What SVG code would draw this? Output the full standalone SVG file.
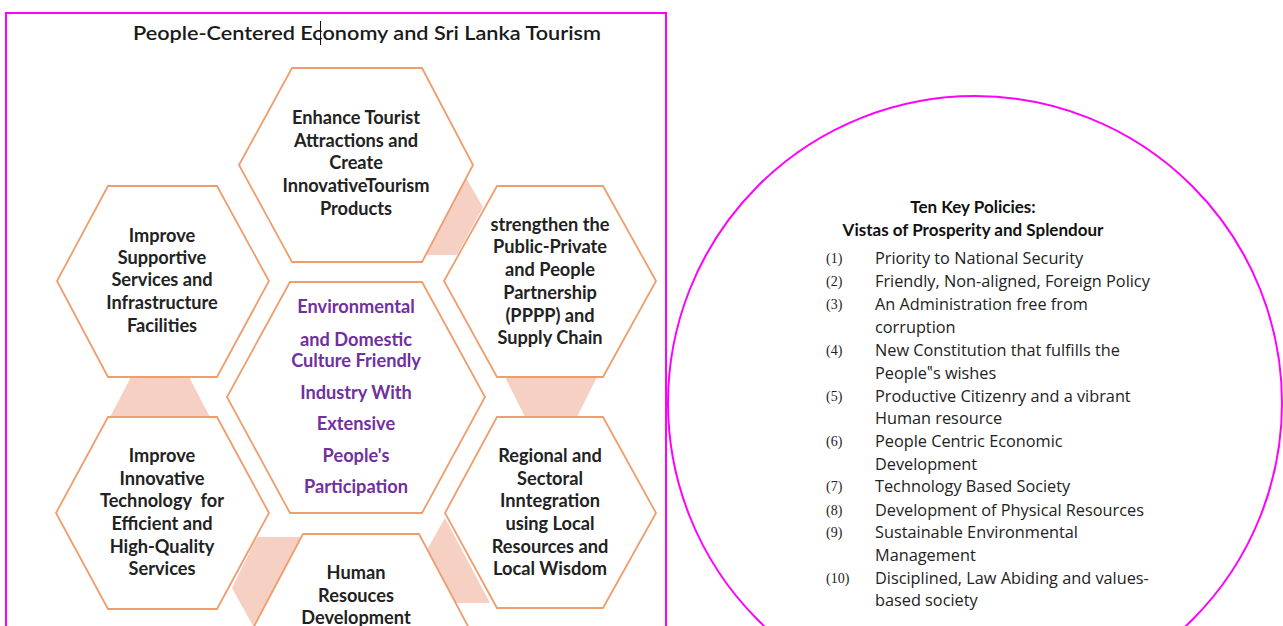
<svg xmlns="http://www.w3.org/2000/svg" width="1283" height="626" viewBox="0 0 1283 626">
<style>
.hex{fill:#fff;stroke:#EE9E6E;stroke-width:1.8}
.con{fill:#F6D0C2;stroke:none}
.ht{font-family:Lato,"Open Sans",sans-serif;font-weight:700;font-size:18.2px;fill:#222;text-anchor:middle}
.pt{font-family:Lato,"Open Sans",sans-serif;font-weight:700;font-size:18.2px;fill:#7030A0;text-anchor:middle}
.num{font-family:"Liberation Serif",serif;font-size:14px;fill:#222}
.li{font-family:"Open Sans",Lato,sans-serif;font-size:16.3px;fill:#222}
.rt{font-family:Lato,"Open Sans",sans-serif;font-weight:700;font-size:17px;fill:#111;text-anchor:middle}
</style>
<rect width="1283" height="626" fill="#fff"/>
<path d="M6,640 V13 H666 V640" fill="none" stroke="#FF00FF" stroke-width="2"/>
<circle cx="975" cy="403" r="307" fill="none" stroke="#FF00FF" stroke-width="2"/>
<g id="title">
<text x="367" y="40" font-family="Lato,'Open Sans',sans-serif" font-size="20px" font-weight="600" fill="#1a1a1a" text-anchor="middle" textLength="468" lengthAdjust="spacingAndGlyphs">People-Centered Economy and Sri Lanka Tourism</text>
<line x1="320.5" y1="21" x2="320.5" y2="45" stroke="#111" stroke-width="1"/>
</g>
<g id="connectors">
<polygon class="con" points="466,178 483,207 457,255 426,255"/>
<polygon class="con" points="505,377 597,377 577,417 525,417"/>
<polygon class="con" points="131,377 189,377 210,417 110,417"/>
<polygon class="con" points="257,537 302,537 253,626 232,588"/>
<polygon class="con" points="445,518 490,603 452,603 424,555"/>
</g>
<g id="hex-top">
<polygon class="hex" points="292,68 422,68 473,165 422,262 292,262 239,165"/>
<text class="ht"><tspan x="356" y="124">Enhance Tourist</tspan><tspan x="356" y="147">Attractions and</tspan><tspan x="356" y="169">Create</tspan><tspan x="356" y="192">InnovativeTourism</tspan><tspan x="356" y="215">Products</tspan></text>
</g>
<g id="hex-left-up">
<polygon class="hex" points="108,186 217,186 269,281 217,377 108,377 57,281"/>
<text class="ht"><tspan x="162" y="242">Improve</tspan><tspan x="162" y="264">Supportive</tspan><tspan x="162" y="286">Services and</tspan><tspan x="162" y="309">Infrastructure</tspan><tspan x="162" y="332">Facilities</tspan></text>
</g>
<g id="hex-right-up">
<polygon class="hex" points="497,186 603,186 656,281 603,377 497,377 444,281"/>
<text class="ht"><tspan x="550" y="231">strengthen the</tspan><tspan x="550" y="253">Public-Private</tspan><tspan x="550" y="276">and People</tspan><tspan x="550" y="299">Partnership</tspan><tspan x="550" y="322">(PPPP) and</tspan><tspan x="550" y="344">Supply Chain</tspan></text>
</g>
<g id="hex-center">
<polygon class="hex" points="290,282 422,282 485,397 422,513 290,513 227,397"/>
<text class="pt"><tspan x="356" y="313">Environmental</tspan><tspan x="356" y="346">and Domestic</tspan><tspan x="356" y="367">Culture Friendly</tspan><tspan x="356" y="399">Industry With</tspan><tspan x="356" y="430">Extensive</tspan><tspan x="356" y="462">People's</tspan><tspan x="356" y="493">Participation</tspan></text>
</g>
<g id="hex-left-low">
<polygon class="hex" points="108,417 217,417 269,513 217,609 108,609 56,513"/>
<text class="ht"><tspan x="162" y="462">Improve</tspan><tspan x="162" y="485">Innovative</tspan><tspan x="162" y="507" style="white-space:pre">Technology  for</tspan><tspan x="162" y="530">Efficient and</tspan><tspan x="162" y="553">High-Quality</tspan><tspan x="162" y="575">Services</tspan></text>
</g>
<g id="hex-right-low">
<polygon class="hex" points="497,417 603,417 656,513 603,608 497,608 445,513"/>
<text class="ht"><tspan x="550" y="462">Regional and</tspan><tspan x="550" y="485">Sectoral</tspan><tspan x="550" y="507">Inntegration</tspan><tspan x="550" y="530">using Local</tspan><tspan x="550" y="553">Resources and</tspan><tspan x="550" y="575">Local Wisdom</tspan></text>
</g>
<g id="hex-bottom">
<polygon class="hex" points="303,534 419,534 470,630 419,726 303,726 252,630"/>
<text class="ht"><tspan x="356" y="579">Human</tspan><tspan x="356" y="602">Resouces</tspan><tspan x="356" y="624">Development</tspan></text>
</g>
<g id="policies">
<text class="rt" x="973" y="213">Ten Key Policies:</text>
<text class="rt" x="973" y="236">Vistas of Prosperity and Splendour</text>
<g class="num">
<text x="826" y="263">(1)</text>
<text x="826" y="286">(2)</text>
<text x="826" y="309">(3)</text>
<text x="826" y="355">(4)</text>
<text x="826" y="401">(5)</text>
<text x="826" y="446">(6)</text>
<text x="826" y="491">(7)</text>
<text x="826" y="515">(8)</text>
<text x="826" y="537">(9)</text>
<text x="826" y="583">(10)</text>
</g>
<g class="li">
<text x="875" y="264">Priority to National Security</text>
<text x="875" y="287">Friendly, Non-aligned, Foreign Policy</text>
<text x="875" y="310">An Administration free from</text>
<text x="875" y="333">corruption</text>
<text x="875" y="356">New Constitution that fulfills the</text>
<text x="875" y="379">People‟s wishes</text>
<text x="875" y="402">Productive Citizenry and a vibrant</text>
<text x="875" y="424">Human resource</text>
<text x="875" y="447">People Centric Economic</text>
<text x="875" y="470">Development</text>
<text x="875" y="492">Technology Based Society</text>
<text x="875" y="516">Development of Physical Resources</text>
<text x="875" y="538">Sustainable Environmental</text>
<text x="875" y="561">Management</text>
<text x="875" y="584">Disciplined, Law Abiding and values-</text>
<text x="875" y="606">based society</text>
</g>
</g>
</svg>
